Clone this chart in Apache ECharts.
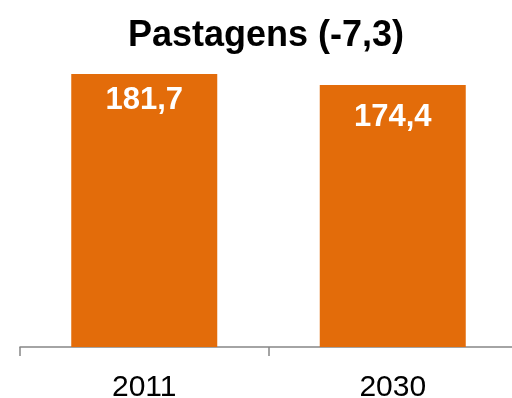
<!DOCTYPE html>
<html>
<head>
<meta charset="utf-8">
<script src="https://cdn.jsdelivr.net/npm/echarts@6/dist/echarts.min.js"></script>
<style>
  html, body { margin: 0; padding: 0; background: #fff; overflow: hidden; }
  #chart { width: 517px; height: 398px; }
</style>
</head>
<body>
<div id="chart"></div>
<script>
// Pasture area, two reference years
const years = ['2011', '2030'];
const pastureValues = [181.7, 174.4];
const chartTitle = 'Pastagens (-7,3)';

// gap between each bar's top and its value label
const labelGaps = [11, 17];

const fmt = v => v.toFixed(1).replace('.', ',');

const chart = echarts.init(document.getElementById('chart'), null, { renderer: 'canvas' });
chart.setOption({
  animation: false,
  title: {
    text: chartTitle,
    left: 123,
    top: 13,
    textStyle: {
      fontFamily: 'Liberation Sans, Arial, sans-serif',
      fontWeight: 'bold',
      fontSize: 36,
      color: '#000'
    }
  },
  grid: {
    left: 20, right: 0, top: 74, bottom: 51,
    containLabel: false,
    outerBoundsMode: 'none'
  },
  xAxis: {
    type: 'category',
    data: years,
    axisLine: { lineStyle: { color: '#868686', width: 1.5 } },
    axisTick: { show: true, length: 9, lineStyle: { color: '#868686', width: 1.5 } },
    axisLabel: {
      fontFamily: 'Liberation Sans, Arial, sans-serif',
      fontSize: 30,
      color: '#000',
      margin: 26
    }
  },
  yAxis: {
    type: 'value',
    min: 0,
    max: 181.7,
    show: false,
    splitLine: { show: false }
  },
  series: [{
    type: 'bar',
    data: pastureValues.map((v, i) => ({ value: v, label: { distance: labelGaps[i] } })),
    barWidth: 146,
    itemStyle: { color: '#E36C0A' },
    label: {
      show: true,
      position: 'insideTop',
      formatter: p => fmt(p.value),
      fontFamily: 'Liberation Sans, Arial, sans-serif',
      fontWeight: 'bold',
      fontSize: 31,
      color: '#fff'
    }
  }]
});
</script>
</body>
</html>
